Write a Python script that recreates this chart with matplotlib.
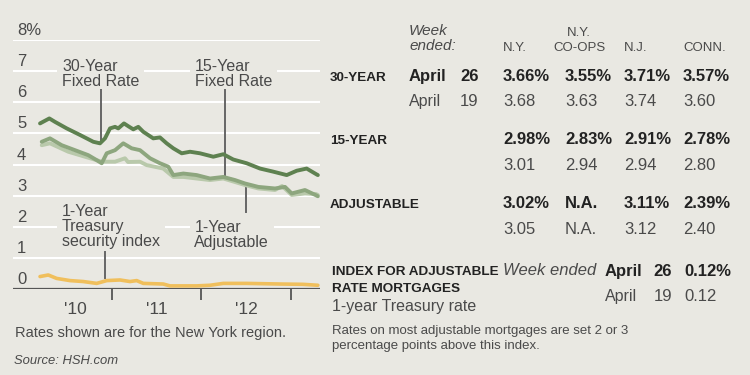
import matplotlib
matplotlib.use("Agg")
import matplotlib.pyplot as plt

# ---- data (x in decimal years, y in percent) ----
t_30 = [2010.196, 2010.30, 2010.363, 2010.494, 2010.642, 2010.791, 2010.866, 2010.922,
        2010.978, 2011.034, 2011.07, 2011.134, 2011.182, 2011.238, 2011.294, 2011.35,
        2011.461, 2011.536, 2011.611, 2011.685, 2011.779, 2011.872, 2011.983, 2012.132,
        2012.244, 2012.355, 2012.505, 2012.654, 2012.802, 2012.952, 2013.064, 2013.175,
        2013.287, 2013.30]
r_30 = [5.32, 5.48, 5.37, 5.16, 4.95, 4.73, 4.68, 4.84,
        5.16, 5.21, 5.16, 5.32, 5.23, 5.13, 5.21, 5.05,
        4.84, 4.87, 4.68, 4.52, 4.36, 4.41, 4.36, 4.25,
        4.33, 4.16, 4.04, 3.87, 3.77, 3.66, 3.80, 3.87,
        3.68, 3.66]

t_15 = [2010.215, 2010.307, 2010.438, 2010.587, 2010.735, 2010.829, 2010.885, 2010.941,
        2011.034, 2011.126, 2011.22, 2011.313, 2011.425, 2011.536, 2011.629, 2011.685,
        2011.797, 2011.946, 2012.095, 2012.244, 2012.374, 2012.486, 2012.635, 2012.821,
        2012.933, 2013.008, 2013.156, 2013.28, 2013.30]
r_15 = [4.73, 4.84, 4.62, 4.46, 4.30, 4.14, 4.04, 4.36,
        4.46, 4.68, 4.52, 4.46, 4.20, 4.04, 3.93, 3.66,
        3.71, 3.66, 3.55, 3.60, 3.50, 3.39, 3.28, 3.23,
        3.28, 3.07, 3.18, 3.01, 2.98]

t_adj = [2010.215, 2010.307, 2010.512, 2010.698, 2010.885, 2011.034, 2011.145, 2011.179,
         2011.313, 2011.388, 2011.573, 2011.685, 2011.797, 2011.946, 2012.095, 2012.244,
         2012.486, 2012.635, 2012.821, 2012.90, 2013.008, 2013.156, 2013.28, 2013.30]
r_adj = [4.62, 4.68, 4.41, 4.25, 4.09, 4.09, 4.20, 4.08,
         4.09, 3.98, 3.87, 3.60, 3.60, 3.55, 3.50, 3.55,
         3.34, 3.23, 3.18, 3.31, 3.02, 3.07, 3.05, 3.02]

t_tsy = [2010.196, 2010.288, 2010.382, 2010.531, 2010.679, 2010.829, 2010.941, 2011.089,
         2011.201, 2011.276, 2011.35, 2011.573, 2011.648, 2011.946, 2012.095, 2012.244,
         2012.505, 2012.877, 2013.134, 2013.30]
r_tsy = [0.40, 0.45, 0.34, 0.27, 0.24, 0.18, 0.27, 0.29,
         0.24, 0.27, 0.18, 0.16, 0.10, 0.10, 0.12, 0.18,
         0.18, 0.16, 0.15, 0.12]

y_ticks = [0, 1, 2, 3, 4, 5, 6, 7, 8]
year_ticks = [2011, 2012, 2013]
year_label_pos = [2010.59, 2011.5, 2012.5]
year_labels = ["'10", "'11", "'12"]

columns = ["N.Y.", "CO-OPS", "N.J.", "CONN."]
rows = ["30-YEAR", "15-YEAR", "ADJUSTABLE"]
this_week = [["3.66%", "3.55%", "3.71%", "3.57%"],
             ["2.98%", "2.83%", "2.91%", "2.78%"],
             ["3.02%", "N.A.", "3.11%", "2.39%"]]
last_week = [["3.68", "3.63", "3.74", "3.60"],
             ["3.01", "2.94", "2.94", "2.80"],
             ["3.05", "N.A.", "3.12", "2.40"]]
index_now, index_prev = "0.12%", "0.12"

# ---- style ----
BG = "#e9e8e2"
DARK = "#5e8150"
MID = "#8da67e"
LIGHT = "#b9c9ab"
GOLD = "#f0bf5c"
AXIS = "#555555"
INK = "#222222"
GREY = "#4a4a4a"
plt.rcParams["font.family"] = ["Liberation Sans", "DejaVu Sans"]

W, H = 750, 375
fig = plt.figure(figsize=(W / 100, H / 100), dpi=100, facecolor=BG)


def fx(px):
    return px / W


def fy(py):
    return 1 - py / H


ax = fig.add_axes([fx(13), fy(289), 307 / W, 249 / H])
ax.set_facecolor("none")
ax.set_xlim(2009.894, 2013.324)
ax.set_ylim(0, 8)
for s in ax.spines.values():
    s.set_visible(False)
ax.set_yticks([])

for v in y_ticks[1:]:
    ax.axhline(v, color="white", lw=1.5, zorder=0)
ax.axhline(0, color=AXIS, lw=1.6, zorder=1)
for v in y_ticks:
    lab = "8%" if v == 8 else str(v)
    ax.text(0.013, v + 0.16, lab, transform=ax.get_yaxis_transform(),
            fontsize=12, color=GREY, va="baseline", ha="left")

ax.set_xticks(year_ticks)
ax.tick_params(axis="x", which="major", direction="out", length=8, width=1.3,
               color=AXIS, labelbottom=False)
ax.set_xticks(year_label_pos, minor=True)
ax.set_xticklabels(year_labels, minor=True)
ax.tick_params(axis="x", which="minor", length=0, pad=9, labelsize=12.5,
               labelcolor=GREY)

ax.plot(t_tsy, r_tsy, color=GOLD, lw=2.6, zorder=4, solid_capstyle="round")
ax.plot(t_adj, r_adj, color=LIGHT, lw=2.8, zorder=4, solid_capstyle="round")
ax.plot(t_15, r_15, color=MID, lw=2.8, zorder=5, solid_capstyle="round")
ax.plot(t_30, r_30, color=DARK, lw=2.8, zorder=6, solid_capstyle="round")

# series labels with pointers
box = dict(boxstyle="square,pad=0.3", fc=BG, ec="none")
lab_kw = dict(fontsize=11.5, color=GREY, va="top", ha="left", linespacing=1.0,
              bbox=box, zorder=3)
ax.text(2010.441, 7.39, "30-Year\nFixed Rate", **lab_kw)
ax.text(2011.930, 7.39, "15-Year\nFixed Rate", **lab_kw)
ax.text(2010.441, 2.72, "1-Year\nTreasury\nsecurity index", **lab_kw)
ax.text(2011.920, 2.22, "1-Year\nAdjustable", **lab_kw)
ptr = dict(color="#666666", lw=1.4, zorder=3)
ax.plot([2010.877, 2010.877], [6.39, 4.69], **ptr)
ax.plot([2012.263, 2012.263], [6.39, 3.66], **ptr)
ax.plot([2010.922, 2010.922], [1.19, 0.35], **ptr)
ax.plot([2012.497, 2012.497], [2.47, 3.34], **ptr)

fig.text(fx(15), fy(337), "Rates shown are for the New York region.",
         fontsize=10.5, color=GREY)
fig.text(fx(14), fy(364), "Source: HSH.com", fontsize=9.4, color=GREY,
         style="italic")

# ---- table ----
def t(px, py, s, size=12, bold=False, color=INK, ha="left", italic=False):
    fig.text(fx(px), fy(py), s, fontsize=size, color=color, ha=ha,
             va="baseline", fontweight="bold" if bold else "normal",
             style="italic" if italic else "normal")


t(409, 35, "Week", 11, color=GREY, italic=True)
t(409, 49.5, "ended:", 11, color=GREY, italic=True)
t(579, 36, "N.Y.", 9.5, color=GREY, ha="center")
col_x = [503, 565, 624, 683]
head_x = [503, 579, 624, 683]
for c, (name, hx) in enumerate(zip(columns, head_x)):
    t(hx, 51, name, 9.5, color=GREY, ha="center" if c == 1 else "left")

row_y = [81, 144, 208]
for r, name in enumerate(rows):
    y0 = row_y[r]
    t(330, y0, name, 9.7, bold=True)
    if r == 0:
        t(409, y0, "April", 12, bold=True)
        t(479, y0, "26", 12, bold=True, ha="right")
        t(409, y0 + 25, "April", 11.5, color=GREY)
        t(478, y0 + 25, "19", 12, color=GREY, ha="right")
    for c in range(4):
        t(col_x[c], y0, this_week[r][c], 12, bold=True)
        t(col_x[c], y0 + 26 if r else y0 + 25, last_week[r][c], 12, color=GREY)

t(332, 275, "INDEX FOR ADJUSTABLE", 9.7, bold=True)
t(332, 292, "RATE MORTGAGES", 9.7, bold=True)
t(332, 311, "1-year Treasury rate", 11.5, color=GREY)
t(503, 275, "Week ended", 12, color=GREY, italic=True)
t(605, 276, "April", 12, bold=True)
t(672, 276, "26", 12, bold=True, ha="right")
t(684, 276, index_now, 12, bold=True)
t(605, 301, "April", 11.5, color=GREY)
t(672, 301, "19", 12, color=GREY, ha="right")
t(684, 301, index_prev, 12, color=GREY)
t(332, 334, "Rates on most adjustable mortgages are set 2 or 3", 9.5, color=GREY)
t(332, 349, "percentage points above this index.", 9.5, color=GREY)

fig.savefig("out.png", dpi=100, facecolor=BG)
